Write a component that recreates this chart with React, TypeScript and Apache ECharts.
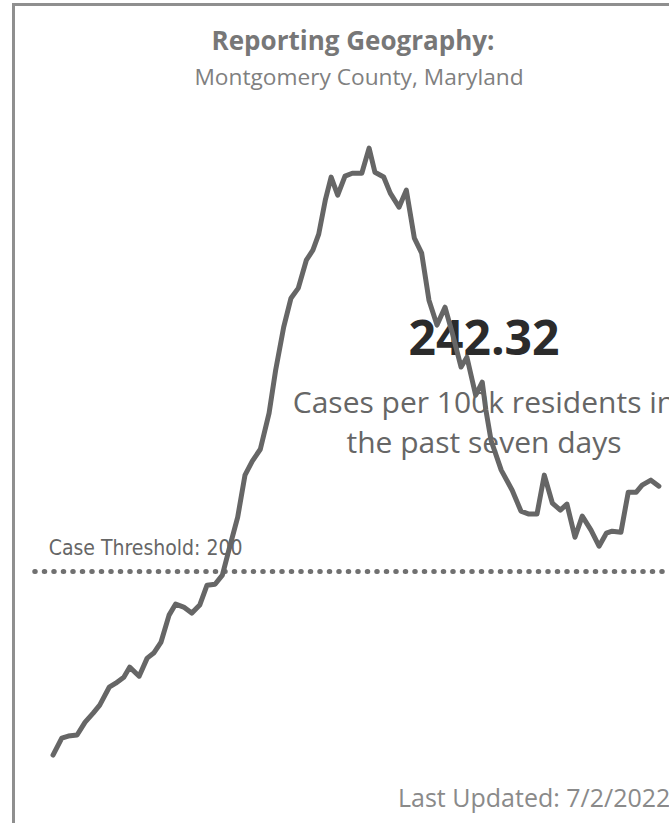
import React, { useEffect, useRef } from "react";
import * as echarts from "echarts";

// Day index (0 = first day shown) and 7-day cases per 100k residents
const days = [
  0, 1.2, 2.1, 3.3, 4.4, 5.5, 6.4, 7.7, 8.6, 9.7, 10.5, 11.8, 12.9, 13.8, 14.8, 15.9,
  16.8, 17.9, 19.0, 20.1, 21.1, 22.2, 23.2, 24.2, 25.3, 26.3, 27.3, 28.4, 29.6, 30.5,
  31.6, 32.6, 33.6, 34.7, 35.6, 36.4, 37.3, 38.1, 39.0, 40.0, 41.0, 42.3, 43.3, 44.1,
  45.3, 46.2, 47.4, 48.4, 49.5, 50.5, 51.5, 52.6, 53.7, 54.7, 55.9, 56.7, 57.9, 58.8,
  59.3, 60.0, 61.4, 62.9, 64.1, 65.2, 66.3, 67.3, 68.4, 69.5, 70.4, 71.5, 72.5, 73.7,
  74.8, 75.8, 76.6, 77.8, 78.8, 79.9, 80.7, 81.9, 83.0,
];
const cases = [
  108.4, 116.9, 117.9, 118.4, 124.8, 129.3, 133.3, 142.2, 144.2, 147.2, 152.2, 147.7,
  156.7, 159.2, 164.7, 178.1, 183.6, 182.1, 179.1, 183.1, 193.0, 193.5, 198.0, 211.9,
  226.9, 247.8, 254.8, 260.7, 278.7, 300.1, 321.5, 335.9, 340.9, 354.8, 359.8, 367.8,
  384.7, 396.2, 387.2, 396.7, 398.1, 398.1, 410.6, 398.6, 396.2, 388.2, 381.2, 389.7,
  365.8, 358.3, 334.9, 322.5, 331.4, 318.5, 301.6, 306.5, 287.6, 294.1, 280.2, 265.2,
  250.3, 240.3, 229.9, 228.4, 228.4, 247.8, 233.9, 230.4, 233.4, 216.9, 227.4, 220.4,
  212.4, 218.9, 219.9, 219.4, 239.3, 239.3, 242.8, 245.3, 242.32,
];
const threshold = 200;
const titleText = "Reporting Geography:";
const geographyText = "Montgomery County, Maryland";
const currentValueText = "242.32";
const captionLines = ["Cases per 100k residents in", "the past seven days"];
const updatedText = "Last Updated: 7/2/2022";

export default function App() {
  const ref = useRef<HTMLDivElement>(null);
  useEffect(() => {
    if (!ref.current) return;
    const chart = echarts.init(ref.current, null, { renderer: "svg" });
    const uiFont = "'Open Sans', 'Noto Sans', sans-serif";
    chart.setOption({
      animation: false,
      backgroundColor: "#ffffff",
      grid: { left: 34.75, right: 0.6, top: 69, bottom: 51 },
      xAxis: { type: "value", min: -2.5, max: 84.3, show: false },
      yAxis: { type: "value", min: 100, max: 450, show: false },
      graphic: [
        {
          type: "rect",
          z: 0,
          shape: { x: 13.5, y: 4.5, width: 720, height: 900 },
          style: { fill: "none", stroke: "#8f8f8f", lineWidth: 3 },
        },
        {
          type: "text",
          z: 1,
          x: 353,
          y: 40,
          style: {
            text: titleText,
            fontFamily: uiFont,
            fontWeight: "bold",
            fontSize: 26,
            fill: "#777777",
            textAlign: "center",
            textVerticalAlign: "middle",
          },
        },
        {
          type: "text",
          z: 1,
          x: 359,
          y: 76,
          style: {
            text: geographyText,
            fontFamily: uiFont,
            fontSize: 22.7,
            fill: "#808080",
            textAlign: "center",
            textVerticalAlign: "middle",
          },
        },
        {
          type: "text",
          z: 1,
          x: 484,
          y: 336,
          style: {
            text: currentValueText,
            fontFamily: uiFont,
            fontWeight: "bold",
            fontSize: 48,
            fill: "#2b2b2b",
            textAlign: "center",
            textVerticalAlign: "middle",
          },
        },
        {
          type: "text",
          z: 1,
          x: 484,
          y: 401,
          style: {
            text: captionLines[0],
            fontFamily: uiFont,
            fontSize: 30,
            fill: "#666666",
            textAlign: "center",
            textVerticalAlign: "middle",
          },
        },
        {
          type: "text",
          z: 1,
          x: 484,
          y: 441,
          style: {
            text: captionLines[1],
            fontFamily: uiFont,
            fontSize: 30,
            fill: "#666666",
            textAlign: "center",
            textVerticalAlign: "middle",
          },
        },
        {
          type: "text",
          z: 1,
          x: 398,
          y: 797,
          style: {
            text: updatedText,
            fontFamily: uiFont,
            fontSize: 25,
            fill: "#8a8a8a",
            textAlign: "left",
            textVerticalAlign: "middle",
          },
        },
      ],
      series: [
        {
          type: "line",
          z: 5,
          data: days.map((d, i) => [d, cases[i]]),
          showSymbol: false,
          silent: true,
          lineStyle: { color: "#666666", width: 5, join: "round", cap: "round" },
          markLine: {
            silent: true,
            symbol: ["none", "none"],
            z: 4,
            data: [{ yAxis: threshold }],
            lineStyle: { type: [0.5, 9], width: 5, color: "#707070", cap: "round" },
            label: {
              show: true,
              position: "insideStartTop",
              formatter: "Case Threshold: " + threshold,
              fontFamily: "'DejaVu Sans Condensed', 'DejaVu Sans', sans-serif",
              fontSize: 21,
              color: "#666666",
              distance: [14, 13],
            },
          },
        },
      ],
    });
    return () => chart.dispose();
  }, []);
  return (
    <div
      ref={ref}
      style={{ position: "fixed", left: 0, top: 0, width: 669, height: 823, background: "#fff" }}
    />
  );
}
